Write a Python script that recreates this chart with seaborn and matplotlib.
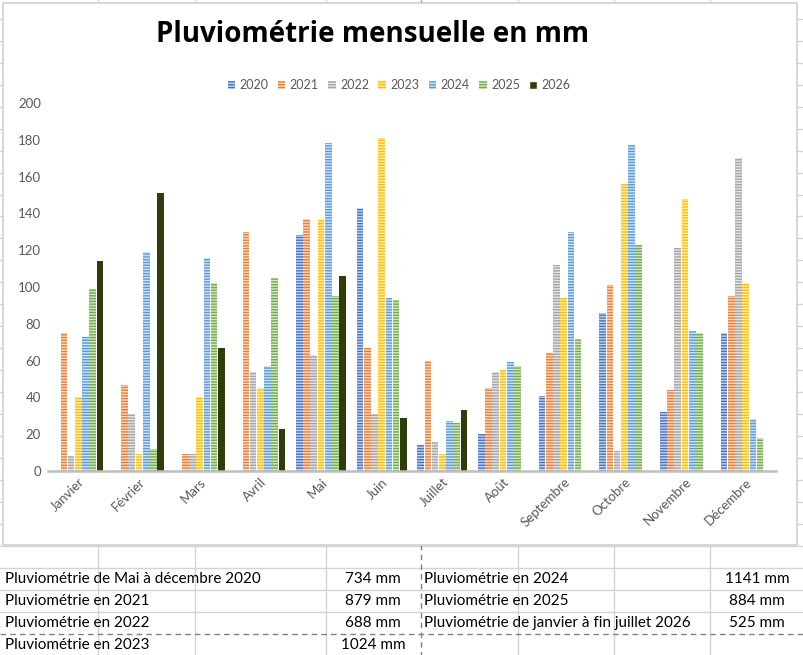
import numpy as np
import pandas as pd
import matplotlib
matplotlib.use("Agg")
import matplotlib.pyplot as plt
from matplotlib.patches import Patch, Rectangle
import matplotlib.colors as mcolors
import seaborn as sns

sns.set_style("white")
plt.rcParams["font.family"] = ["Lato", "DejaVu Sans"]
plt.rcParams["hatch.linewidth"] = 1.0

nan = np.nan
months = ["Janvier", "Février", "Mars", "Avril", "Mai", "Juin", "Juillet",
          "Août", "Septembre", "Octobre", "Novembre", "Décembre"]
years = ["2020", "2021", "2022", "2023", "2024", "2025", "2026"]

v2020 = [nan, nan, nan, nan, 128, 143, 14, 20, 41, 86, 32, 75]
v2021 = [75, 47, 9, 130, 137, 67, 60, 45, 64, 101, 44, 95]
v2022 = [8, 31, 9, 54, 63, 31, 16, 54, 112, 11, 121, 170]
v2023 = [40, 9, 40, 45, 137, 181, 9, 55, 94, 156, 148, 102]
v2024 = [73, 119, 116, 57, 178, 94, 27, 59, 130, 177, 76, 28]
v2025 = [99, 12, 102, 105, 95, 93, 26, 57, 72, 123, 75, 18]
v2026 = [114, 151, 67, 23, 106, 29, 33, nan, nan, nan, nan, nan]

totals_left = [("Pluviométrie de Mai à décembre 2020", "734 mm"),
               ("Pluviométrie en 2021", "879 mm"),
               ("Pluviométrie en 2022", "688 mm"),
               ("Pluviométrie en 2023", "1024 mm")]
totals_right = [("Pluviométrie en 2024", "1141 mm"),
                ("Pluviométrie en 2025", "884 mm"),
                ("Pluviométrie de janvier à fin juillet 2026", "525 mm")]

colors = {"2020": "#4472C4", "2021": "#ED7D31", "2022": "#A5A5A5",
          "2023": "#FFC000", "2024": "#5B9BD5", "2025": "#70AD47",
          "2026": "#2F3D0C"}


def tint(c, f=0.3):
    r, g, b = mcolors.to_rgb(c)
    return (1 - f + f * r, 1 - f + f * g, 1 - f + f * b)


series = [v2020, v2021, v2022, v2023, v2024, v2025, v2026]
df = pd.DataFrame({"Mois": months * len(years),
                   "Année": np.repeat(years, len(months)),
                   "mm": np.concatenate(series)})

fig = plt.figure(figsize=(8.04, 6.55), dpi=100)

# fond tableur
bg = fig.add_axes([0, 0, 1, 1])
bg.set_xlim(0, 804)
bg.set_ylim(655, 0)
bg.axis("off")
grid_c = "#D4D4D4"
for k in range(26):
    y = 545.7 - 21.95 * k
    if y > 0:
        bg.plot([0, 804], [y, y], color=grid_c, lw=1, zorder=0)
for y in [568, 590, 612, 656]:
    bg.plot([0, 804], [y, y], color=grid_c, lw=1, zorder=0)
bg.plot([0, 804], [634, 634], color="#808080", lw=1, ls=(0, (4, 3)), zorder=1)
for x in [98, 195, 326, 518, 614, 710]:
    bg.plot([x, x], [0, 655], color=grid_c, lw=1, zorder=0)
bg.plot([421, 421], [0, 655], color="#808080", lw=1, ls=(0, (4, 3)), zorder=1)

bg.add_patch(Rectangle((3, 3), 794, 542, facecolor="white",
                       edgecolor="#D0D0D0", lw=1.2, zorder=2))

bg.text(373, 34, "Pluviométrie mensuelle en mm", ha="center", va="center",
        fontsize=20, fontweight="bold", family=["Open Sans", "DejaVu Sans"],
        color="black", zorder=3)

row_y = [579, 601, 623, 645]
for (lab, val), y in zip(totals_left, row_y):
    bg.text(5, y, lab, ha="left", va="center", fontsize=11, color="black", zorder=3)
    bg.text(373, y, val, ha="center", va="center", fontsize=11, color="black", zorder=3)
for (lab, val), y in zip(totals_right, row_y):
    bg.text(424, y, lab, ha="left", va="center", fontsize=11, color="black", zorder=3)
    bg.text(757, y, val, ha="center", va="center", fontsize=11, color="black", zorder=3)

# graphique
ax = fig.add_axes([48 / 804, (655 - 471) / 655, (776 - 48) / 804, (471 - 103) / 655])
ax.set_facecolor("none")
sns.barplot(data=df, x="Mois", y="mm", hue="Année", hue_order=years,
            palette=colors, width=0.83, gap=0.08, linewidth=0,
            legend=False, ax=ax)

for yr, cont in zip(years, ax.containers):
    for bar in cont:
        if yr == "2026":
            bar.set_facecolor(colors[yr])
        else:
            bar.set_facecolor(tint(colors[yr]))
            bar.set_edgecolor(colors[yr])
            bar.set_linewidth(0)
            bar.set_hatch("------")

ax.set_ylim(0, 200)
ax.set_yticks(range(0, 201, 20))
ax.set_xlim(-0.5, len(months) - 0.5)
ax.set_xlabel("")
ax.set_ylabel("")
for s in ["top", "right", "left"]:
    ax.spines[s].set_visible(False)
ax.spines["bottom"].set_color("#BFBFBF")
ax.spines["bottom"].set_linewidth(1.8)
ax.tick_params(length=0, colors="#595959", labelsize=9.5)
ax.tick_params(axis="y", pad=5)
plt.setp(ax.get_xticklabels(), rotation=45, ha="right", rotation_mode="anchor")

handles = []
for yr in years:
    if yr == "2026":
        handles.append(Patch(facecolor=colors[yr], label=yr))
    else:
        handles.append(Patch(facecolor=tint(colors[yr]), edgecolor=colors[yr],
                             lw=0, hatch="------", label=yr))
leg = fig.legend(handles=handles, loc="center", bbox_to_anchor=(399 / 804, 1 - 85 / 655),
                 ncol=7, frameon=False, fontsize=9, handlelength=0.6,
                 handleheight=0.6, handletextpad=0.35, columnspacing=0.75)
for t in leg.get_texts():
    t.set_color("#595959")

fig.savefig("out.png", dpi=100)
